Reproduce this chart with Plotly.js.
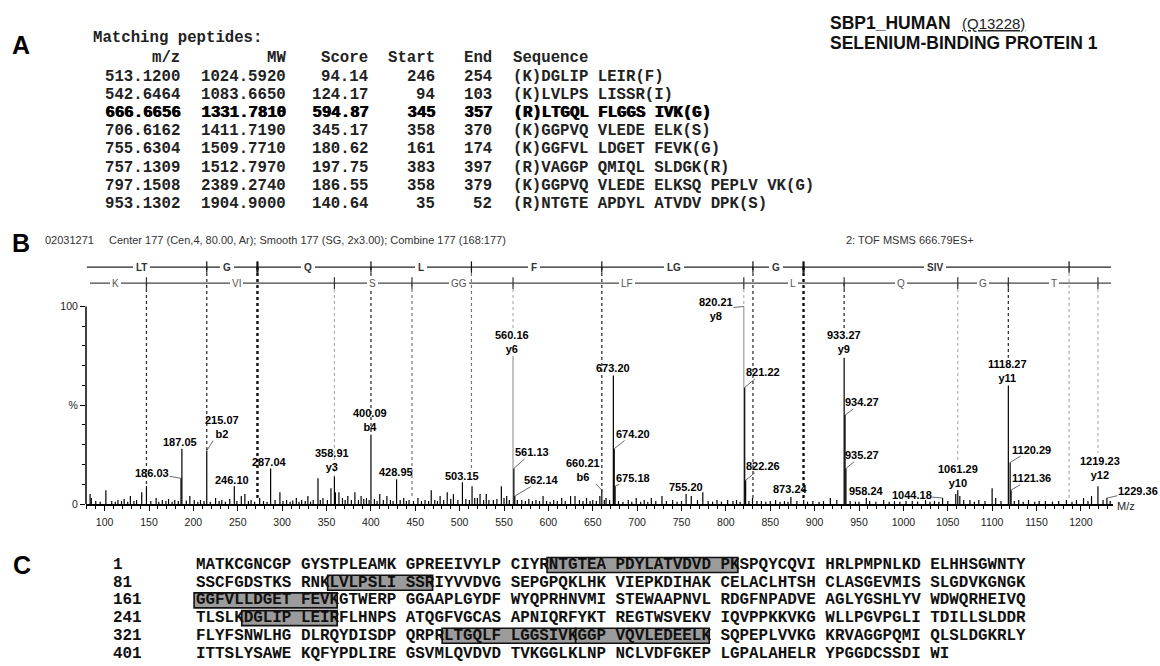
<!DOCTYPE html>
<html><head><meta charset="utf-8">
<script src="https://cdn.plot.ly/plotly-3.0.1.min.js"></script>
<style>html,body{margin:0;padding:0;background:#fff}#chart{width:1160px;height:666px}</style>
</head><body><div id="chart"></div>
<script>
// ===== Panel A: matching peptides table =====
const pepMz    = ['513.1200','542.6464','666.6656','706.6162','755.6304','757.1309','797.1508','953.1302'];
const pepMW    = ['1024.5920','1083.6650','1331.7810','1411.7190','1509.7710','1512.7970','2389.2740','1904.9000'];
const pepScore = ['94.14','124.17','594.87','345.17','180.62','197.75','186.55','140.64'];
const pepStart = [246, 94, 345, 358, 161, 383, 358, 35];
const pepEnd   = [254, 103, 357, 370, 174, 397, 379, 52];
const pepSeq   = ['(K)DGLIP LEIR(F)','(K)LVLPS LISSR(I)','(R)LTGQL FLGGS IVK(G)','(K)GGPVQ VLEDE ELK(S)',
                  '(K)GGFVL LDGET FEVK(G)','(R)VAGGP QMIQL SLDGK(R)','(K)GGPVQ VLEDE ELKSQ PEPLV VK(G)','(R)NTGTE APDYL ATVDV DPK(S)'];
const tableHeaders = ['m/z','MW','Score','Start','End','Sequence'];
const boldRow = 2;
const highlightedRows = [7, 1, 4, 0, 2, 3];   // peptides boxed in panel C

// ===== Panel B: MS/MS spectrum =====
const labMz  = [186.03,187.05,215.07,246.10,287.04,358.91,400.09,428.95,503.15,560.16,
                561.13,562.14,660.21,673.20,674.20,675.18,755.20,820.21,821.22,822.26,
                873.24,933.27,934.27,935.27,958.24,1044.18,1061.29,1118.27,1120.29,1121.36,
                1219.23,1229.36];
const labInt = [13,28,27,9,18,14,35,12.5,11,75,
                18,4,7,65,28,9,5,100,59,12,
                3.5,74,45,18,3,3,7,60,21,7,
                9,3];
const labIon = ['','','b2','','','y3','b4','','','y6',
                '','','b6','','','','','y8','','',
                '','y9','','','','','y10','y11','','',
                'y12',''];
const lightPeaks = [560.16, 820.21];
const smallMz = [83.6,85,90,95,101.4,108,112,115,119,122,
  126,129,133,136,141.8,147.1,152,158,161,165,
  169,172,176,179,183,192,196,201,205,208,
  212,219,225,229,232,236,241,249,254,258,
  262,265,269,274.7,279,283,292,297.5,301,305,
  309,312,316,319,322,326,329,332,335,340.4,
  343,346,351,355,360,364,368,371,374,378,
  382,386,389,392,395,398,404,407,410,414,
  418,422,425,433,437,440,443,448,453,457,
  461,465,468,472,475,478,482,486,490,493,
  498,507,511,514,517,520,523,527,530,533,
  538,542,547,550,553,556,565,570,574,578,
  582,586,590,594,598,602,606,610,615,619,
  625,630,635,639,643,647,650,654,658,663,
  665,669,679,684,690,694,699,704,708,712,
  716,721,728,733,740,745,750,761,768,774,
  780,785,790,795,802,808,812,816,826,830,
  835,840,845,850,856,861,866,870,880,887.7,
  892,898,905,910,917.7,925,940,946,950,962,
  969,977.8,984,990,996,1003,1010,1016,1025,1030,
  1035,1040,1050,1059,1063.6,1068,1075,1080,1085,1092,
  1100,1104,1110,1125,1130,1135,1141,1148,1153,1160,
  1168,1175,1183.7,1190,1195,1203,1208,1212,1225,1233];
const smallInt = [5,3,1.5,1.2,7,1.5,1.2,2,1.5,2.5,
  1.2,4,1.5,2,6,9,1.5,3,1.2,2,
  1.5,2.5,1.2,2,1.5,1.8,4,2,1.2,2,
  1.5,1.2,3,1.5,2,1.2,2.5,1.5,4,5,
  1.5,2,1.2,3,1.5,1.2,2,6,1.5,2,
  1.2,1.8,3,1.2,2,1.5,4,1.2,2,13,
  2,3,2,8,6,6,3,2,4,2,
  6,2,4,2.5,3,2,2.5,1.5,5,2,
  4,2,1.5,2,3,1.5,2,1.5,3,1.5,
  2,1.5,7,2,1.5,4,2,6,2.5,5,
  2,2.5,2,9,3,3,5,2,5,2,
  2,2.5,9,3,4,2,2,2,1.5,2.5,
  1.5,2,1.5,4,1.5,1.2,2,1.5,3,1.5,
  4,4,2,1.5,3,1.5,2,1.5,4,2,
  3,2,1.5,1.2,2,1.2,3,1.2,2,1.2,
  3,1.5,4,1.5,2,1.2,1.5,4,2,6,
  1.5,1.2,2,1.2,2,1.5,2,1.2,1.5,3,
  1.5,1.5,1.2,1.5,2,1.2,1.5,1.2,1.5,2,
  1.2,1.5,1.2,1.5,3,2,1.5,1.2,1.2,1.5,
  1.2,2,1.2,1.5,1.2,1.5,1.5,1.2,2,1.2,
  1.5,1.2,1.5,5,4,2,2,1.2,2,1.5,
  8,3,1.5,1.5,2,1.2,2,1.2,1.5,1.5,
  1.2,1.5,2,1.2,2,3,1.5,4,2,1.5];
// fragment ladders (LTGQLFLGGSIVK)
const bIonMz   = [215.07, 272.2, 400.09, 513.3, 660.21, 830.5, 887.5, 1186.7];
const bIonEnd  = [27, 3, 35, 17, 6, 3, 3, 3];
const yIonMz   = [147.1, 358.91, 446.3, 560.16, 820.21, 933.27, 1061.29, 1118.27, 1219.23];
const yIonEnd  = [10, 14, 3, 88, 101, 89, 21, 74, 26];
const bSegLabels = ['LT','G','Q','L','F','LG','G','SIV'];
const bSegLabelMz = [142, 238, 329, 456, 584, 742, 857, 1036];
const ySegLabels = ['K','VI','S','GG','LF','L','Q','G','T'];
const ySegLabelMz = [112, 249, 401.5, 499.6, 688.6, 876, 997, 1089.6, 1169.4];
const ladderStart = 80, ladderEnd = 1234;

// ===== Panel C: protein sequence =====
const proteinSeq =
  'MATKCGNCGPGYSTPLEAMKGPREEIVYLPCIYRNTGTEAPDYLATVDVDPKSPQYCQVIHRLPMPNLKDELHHSGWNTY' +
  'SSCFGDSTKSRNKLVLPSLISSRIYVVDVGSEPGPQKLHKVIEPKDIHAKCELACLHTSHCLASGEVMISSLGDVKGNGK' +
  'GGFVLLDGETFEVKGTWERPGGAAPLGYDFWYQPRHNVMISTEWAAPNVLRDGFNPADVEAGLYGSHLYVWDWQRHEIVQ' +
  'TLSLKDGLIPLEIRFLHNPSATQGFVGCASAPNIQRFYKTREGTWSVEKVIQVPPKKVKGWLLPGVPGLITDILLSLDDR' +
  'FLYFSNWLHGDLRQYDISDPQRPRLTGQLFLGGSIVKGGPVQVLEDEELKSQPEPLVVKGKRVAGGPQMIQLSLDGKRLY' +
  'ITTSLYSAWEKQFYPDLIREGSVMLQVDVDTVKGGLKLNPNCLVDFGKEPLGPALAHELRYPGGDCSSDIWI';

// ===== layout geometry =====
const L = 86, R = 1113, T = 259, B = 504;
const PX = x => (x - L) / (R - L);
const PY = y => (B - y) / (B - T);
const SANS = 'Liberation Sans, Arial, sans-serif';
const MONO = 'Liberation Mono, Courier New, monospace';
const ann = [], shapes = [], traces = [];

function txt(x, y, text, font, xanchor, extra) {
  ann.push(Object.assign({xref:'paper', yref:'paper', x:PX(x), y:PY(y), text:text, showarrow:false,
    xanchor:xanchor || 'left', yanchor:'middle', font:font, borderpad:0, borderwidth:0}, extra || {}));
}

// ---- Panel A ----
txt(21, 45, '<b>A</b>', {family:SANS, size:25, color:'#000'}, 'center');
const tF = {family:MONO, size:15.7, color:'#222'};
const tFB = {family:MONO, size:15.7, color:'#000'};
txt(93, 38, '<b>Matching peptides:</b>', tF);
const colRight = [180, 286, 368, 435, 492], seqLeft = 513;
tableHeaders.forEach((h, j) => {
  if (j < 5) txt(colRight[j], 58, '<b>' + h + '</b>', tF, 'right');
  else txt(seqLeft, 58, '<b>' + h + '</b>', tF, 'left');
});
for (let i = 0; i < pepMz.length; i++) {
  const y = 77 + 18.1 * i;
  const cells = [pepMz[i], pepMW[i], pepScore[i], String(pepStart[i]), String(pepEnd[i])];
  const reps = (i === boldRow) ? [0, 0.8] : [0];
  reps.forEach(off => {
    const f = (i === boldRow) ? tFB : tF;
    cells.forEach((c, j) => txt(colRight[j] + off, y, '<b>' + c + '</b>', f, 'right'));
    txt(seqLeft + off, y, '<b>' + pepSeq[i] + '</b>', f, 'left');
  });
}
txt(830, 23, '<b>SBP1_HUMAN</b>', {family:SANS, size:17.5, color:'#111'});
txt(962, 23, '<u>(Q13228)</u>', {family:SANS, size:15, color:'#222'});
txt(830, 43, '<b>SELENIUM-BINDING PROTEIN 1</b>', {family:SANS, size:17.5, color:'#111'});

// ---- Panel B header ----
txt(21, 243, '<b>B</b>', {family:SANS, size:25, color:'#000'}, 'center');
const hF = {family:SANS, size:11, color:'#333'};
txt(45, 240, '02031271', hF);
txt(109, 240, 'Center 177 (Cen,4, 80.00, Ar); Smooth 177 (SG, 2x3.00); Combine 177 (168:177)', hF);
txt(846, 240, '2: TOF MSMS 666.79ES+', hF);
txt(1117, 506, 'M/z', {family:SANS, size:11, color:'#222'});

// ---- spectrum stems ----
function stems(xs, ys) {
  const x = [], y = [];
  xs.forEach((m, i) => { x.push(m, m, null); y.push(0, ys[i], null); });
  return {x, y};
}
const lightIdx = labMz.map((m, i) => lightPeaks.includes(m));
const lt = stems(labMz.filter((m, i) => lightIdx[i]), labInt.filter((v, i) => lightIdx[i]));
traces.push({type:'scatter', mode:'lines', x:lt.x, y:lt.y, line:{color:'#9a9a9a', width:1.2}, hoverinfo:'skip'});
const allMz = smallMz.concat(labMz.filter((m, i) => !lightIdx[i]));
const allInt = smallInt.concat(labInt.filter((v, i) => !lightIdx[i]));
const bk = stems(allMz, allInt);
traces.push({type:'scatter', mode:'lines', x:bk.x, y:bk.y, line:{color:'#000', width:1.2}, hoverinfo:'skip'});

// ---- fragment ladders ----
const upperY = 119.9, lowerY = 111.8;
const dotStyle = {
  heavy:{width:2.4, color:'#111'}, dark:{width:1.3, color:'#333'},
  gray:{width:1.2, color:'#777'}, light:{width:1.1, color:'#aaa'}
};
const bStyle = ['dark','heavy','dark','gray','dark','dark','heavy','light'];
const yStyle = ['dark','light','gray','light','light','dark','light','dark','light'];
traces.push({type:'scatter', mode:'lines', x:[ladderStart, ladderEnd], y:[upperY, upperY], line:{color:'#222', width:1.2}, hoverinfo:'skip'});
traces.push({type:'scatter', mode:'lines', x:[ladderStart + 3.5, ladderEnd], y:[lowerY, lowerY], line:{color:'#444', width:1.1}, hoverinfo:'skip'});
bIonMz.forEach((m, i) => {
  const s = dotStyle[bStyle[i]];
  traces.push({type:'scatter', mode:'lines', x:[m, m], y:[upperY, bIonEnd[i]], line:{color:s.color, width:s.width, dash:'dot'}, hoverinfo:'skip'});
  traces.push({type:'scatter', mode:'lines', x:[m, m], y:[upperY - 2.9, upperY + 2.9], line:{color:'#111', width:bStyle[i] === 'heavy' ? 2.2 : 1.2}, hoverinfo:'skip'});
});
yIonMz.forEach((m, i) => {
  const s = dotStyle[yStyle[i]];
  traces.push({type:'scatter', mode:'lines', x:[m, m], y:[lowerY, yIonEnd[i]], line:{color:s.color, width:s.width, dash:'dot'}, hoverinfo:'skip'});
  traces.push({type:'scatter', mode:'lines', x:[m, m], y:[lowerY - 3, lowerY + 3], line:{color:'#333', width:1.2}, hoverinfo:'skip'});
});
bSegLabels.forEach((t, i) => ann.push({xref:'x', yref:'y', x:bSegLabelMz[i], y:upperY, text:'<b>' + t + '</b>', showarrow:false,
  font:{family:SANS, size:10, color:'#333'}, bgcolor:'#fff', borderpad:3, borderwidth:0}));
ySegLabels.forEach((t, i) => ann.push({xref:'x', yref:'y', x:ySegLabelMz[i], y:lowerY, text:t, showarrow:false,
  font:{family:SANS, size:10, color:'#555'}, bgcolor:'#fff', borderpad:2, borderwidth:0}));

// y-axis line from 0 to 100
shapes.push({type:'line', xref:'paper', yref:'y', x0:0, x1:0, y0:0, y1:100, line:{color:'#000', width:1.5}});

// ---- peak labels ----
const labDx = [-29,-2,15,-2,-1,-2,-1,-1,0,-1, 18,27,-19,0,18.5,17.6,0,-28,18,17, 0,0,17,16,0,-31,0,-0.6,21,20, 1.6,31];
const labDy = [-5,-7,-23.5,-6,-6,-16.5,-15,-7,-6,-14, -16,-16,-20,-8,-14.6,-8.5,-7,3,-15,-14, -8,-16,-12.6,-13,-7,-3,-14.5,-14.5,-13,-12, -18,-7];
const labArrow = [1,0,1,0,0,0,0,0,0,0, 1,1,1,0,1,1,0,1,1,1, 0,0,1,1,0,1,0,0,1,1, 0,1];
const pF = {family:SANS, size:11, color:'#000'};
labMz.forEach((m, i) => {
  const text = '<b>' + m.toFixed(2) + (labIon[i] ? '<br>' + labIon[i] : '') + '</b>';
  if (labArrow[i]) {
    ann.push({xref:'x', yref:'y', x:m, y:labInt[i], text:text, showarrow:true, ax:labDx[i], ay:labDy[i],
      arrowhead:0, arrowwidth:0.8, arrowcolor:'#444', standoff:0, startstandoff:0, font:pF, borderpad:0});
  } else {
    ann.push({xref:'x', yref:'y', x:m, y:labInt[i], text:text, showarrow:false, xshift:labDx[i], yshift:-labDy[i],
      xanchor:'center', yanchor:'middle', font:pF, borderpad:0});
  }
});

// ---- Panel C ----
txt(22, 565, '<b>C</b>', {family:SANS, size:25, color:'#000'}, 'center');
const cw = 9.54, seqX0 = 196, seqY0 = 565, seqDy = 17.7;
const cF = {family:MONO, size:cw / 0.6, color:'#111'};
const nLines = Math.ceil(proteinSeq.length / 80);
for (let l = 0; l < nLines; l++) {
  const chunk = proteinSeq.slice(l * 80, l * 80 + 80);
  const groups = [];
  for (let g = 0; g < chunk.length; g += 10) groups.push(chunk.slice(g, g + 10));
  const y = seqY0 + seqDy * l;
  txt(113, y, '<b>' + (l * 80 + 1) + '</b>', cF);
  txt(seqX0, y, '<b>' + groups.join(' ') + '</b>', cF);
}
function charX(r) { const idx = (r - 1) % 80; return seqX0 + (idx + Math.floor(idx / 10)) * cw; }
function rowY(r) { return seqY0 + seqDy * Math.floor((r - 1) / 80); }
highlightedRows.forEach(k => {
  const s = pepStart[k], e = pepEnd[k];
  const x0 = charX(s) - 0.2 * cw, x1 = charX(e) + 0.8 * cw, yc = rowY(s);
  shapes.push({type:'rect', xref:'paper', yref:'paper', x0:PX(x0), x1:PX(x1), y0:PY(yc + 7.5), y1:PY(yc - 7.5),
    fillcolor:'#9b9b9b', line:{color:'#111', width:1.6}, layer:'above'});
});

const layout = {
  width:1160, height:666, margin:{l:L, r:1160 - R, t:T, b:666 - B, pad:0},
  paper_bgcolor:'#fff', plot_bgcolor:'#fff', showlegend:false, hovermode:false,
  xaxis:{range:[79, 1236.2], showline:true, linewidth:2, linecolor:'#000', ticks:'outside', ticklen:5, tickwidth:1,
    tickcolor:'#000', tick0:0, dtick:50, showgrid:false, zeroline:false, fixedrange:true, ticklabelstandoff:2,
    tickfont:{family:SANS, size:10.5, color:'#222'},
    minor:{dtick:10, ticks:'outside', ticklen:3, tickwidth:1, tickcolor:'#000', showgrid:false}},
  yaxis:{range:[0, 124], showline:false, ticks:'outside', ticklen:5, tickwidth:1, tickcolor:'#000',
    tickmode:'array', tickvals:[0, 50, 100], ticktext:['0', '%', '100'], showgrid:false, zeroline:false, fixedrange:true,
    tickfont:{family:SANS, size:10.5, color:'#222'},
    minor:{tickmode:'array', tickvals:[10,20,30,40,60,70,80,90], ticks:'outside', ticklen:3, tickcolor:'#000', showgrid:false}},
  annotations:ann, shapes:shapes
};
Plotly.newPlot('chart', traces, layout, {displayModeBar:false, staticPlot:true});
</script></body></html>
